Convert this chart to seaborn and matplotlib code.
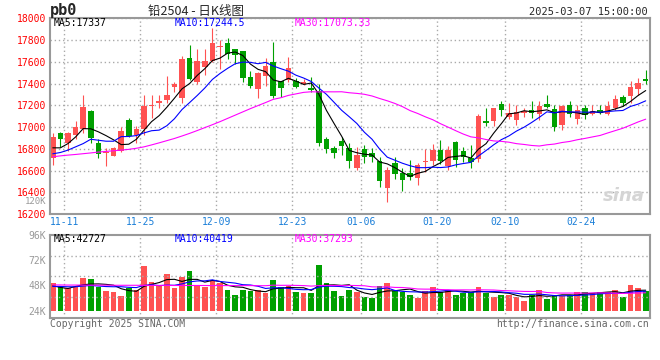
import numpy as np
import pandas as pd
import matplotlib
matplotlib.use("Agg")
import matplotlib.pyplot as plt
import seaborn as sns

# Pb2504 daily K-line
holidays = ["2025-01-01", "2025-01-28", "2025-01-29", "2025-01-30",
            "2025-01-31", "2025-02-03", "2025-02-04"]
tick_labels = ["11-11", "11-25", "12-09", "12-23", "01-06", "01-20", "02-10", "02-24"]
price_ticks = [16200, 16400, 16600, 16800, 17000, 17200, 17400, 17600, 17800, 18000]
vol_ticks = [24000, 48000, 72000, 96000]
vol_tick_labels = ["24K", "48K", "72K", "96K"]

opens = [16717, 16949, 16851, 16931, 16980, 17144, 16851, 16766, 16736, 16778,
         17062, 16925, 16986, 17190, 17222, 17245, 17367, 17266, 17638, 17419,
         17550, 17611, 17735, 17773, 17718, 17696, 17465, 17352, 17467, 17596,
         17422, 17437, 17422, 17397, 17358, 17336, 16888, 16803, 16870, 16803,
         16620, 16794, 16763, 16690, 16443, 16665, 16580, 16574, 16534, 16683,
         16690, 16787, 16641, 16864, 16779, 16720, 16705, 17053, 17056, 17208,
         17093, 17068, 17132, 17153, 17120, 17215, 17169, 17016, 17205, 17077,
         17175, 17117, 17160, 17117, 17178, 17276, 17282, 17352, 17443]
highs = [16949, 16955, 16955, 17059, 17300, 17153, 16888, 16809, 16818, 17001,
         17083, 17007, 17291, 17291, 17300, 17474, 17413, 17657, 17754, 17718,
         17718, 17910, 17800, 17821, 17720, 17702, 17520, 17510, 17632, 17779,
         17428, 17647, 17449, 17440, 17458, 17397, 16910, 16827, 16910, 16858,
         16818, 16833, 16809, 16726, 16635, 16726, 16620, 16696, 16665, 16794,
         16848, 16879, 16827, 16870, 16818, 16839, 17120, 17175, 17178, 17236,
         17224, 17199, 17175, 17236, 17236, 17291, 17199, 17199, 17236, 17199,
         17199, 17205, 17205, 17236, 17297, 17297, 17428, 17449, 17529]
lows = [16650, 16818, 16778, 16894, 16950, 16855, 16717, 16644, 16730, 16772,
        16910, 16858, 16930, 17083, 17180, 17221, 17321, 17224, 17434, 17397,
        17480, 17601, 17535, 17626, 17580, 17413, 17361, 17266, 17382, 17266,
        17281, 17413, 17358, 17390, 17321, 16827, 16757, 16718, 16742, 16620,
        16604, 16666, 16681, 16452, 16306, 16519, 16415, 16513, 16467, 16589,
        16650, 16659, 16604, 16635, 16681, 16626, 16681, 17007, 17010, 17099,
        17077, 17016, 17093, 17086, 17062, 17178, 16961, 16970, 17093, 17025,
        17071, 17108, 17117, 17108, 17160, 17190, 17224, 17297, 17397]
closes = [16907, 16894, 16949, 16998, 17181, 16900, 16754, 16775, 16803, 16961,
          16919, 16980, 17193, 17199, 17238, 17300, 17397, 17626, 17443, 17611,
          17611, 17770, 17740, 17672, 17663, 17450, 17376, 17498, 17565, 17282,
          17361, 17541, 17367, 17413, 17346, 16849, 16794, 16766, 16827, 16690,
          16742, 16727, 16727, 16507, 16604, 16568, 16513, 16537, 16650, 16690,
          16787, 16690, 16787, 16696, 16727, 16675, 17099, 17041, 17178, 17160,
          17132, 17138, 17144, 17132, 17196, 17184, 17001, 17193, 17117, 17160,
          17108, 17144, 17132, 17193, 17260, 17221, 17373, 17407, 17420]
volumes = [50800, 46200, 45200, 46200, 55100, 54200, 46800, 43100, 42200, 38500,
           45200, 43700, 66200, 51700, 47100, 59100, 45200, 56000, 61500, 47100,
           46200, 53200, 50800, 44000, 39400, 44000, 42500, 44000, 40900, 53200,
           46200, 47100, 42200, 40600, 40900, 67700, 50800, 43100, 37900, 44000,
           42200, 37500, 36000, 47700, 50800, 43100, 42200, 39400, 36000, 43100,
           46200, 42200, 44000, 39400, 40900, 42200, 46800, 40900, 37500, 39100,
           39100, 36900, 33800, 39100, 43700, 35400, 39100, 38500, 39100, 42200,
           42200, 40900, 41500, 42200, 44000, 36900, 48600, 45200, 43100]

# moving-average values before enough history is in the window
ma5_head = [16809, 16809, 16848, 16909]
ma10_head = [16754, 16766, 16788, 16818, 16848, 16888, 16879, 16870, 16870]
ma30_head = [16727, 16735, 16742, 16748, 16755, 16762, 16770, 16776, 16782, 16788,
             16795, 16805, 16818, 16836, 16855, 16875, 16895, 16918, 16942, 16968,
             16995, 17022, 17050, 17080, 17110, 17140, 17170, 17198, 17226]
vma5_head = [47700, 46200, 45200, 47100]
vma10_head = [47100, 47100, 46800, 46800, 47500, 48000, 47500, 47000, 46800]
vma30_head = [48500, 48500, 48400, 48400, 48400, 48300, 48300, 48300, 48200, 48200,
              48200, 48200, 48100, 48100, 48100, 48100, 48000, 48000, 48000, 48000,
              48000, 47900, 47900, 47900, 47900, 47900, 47900, 47800, 47800]

RED = "#ff5252"
GREEN = "#00a000"
GRID = "#aaaaaa"
FRAME = "#999999"

days = pd.bdate_range("2024-11-08", "2025-03-07")
days = days[~days.isin(pd.to_datetime(holidays))]
day_lbl = list(days.strftime("%m-%d"))
tick_pos = [day_lbl.index(t) + 0.5 for t in tick_labels]


def moving(vals, n, head):
    m = pd.Series(vals, dtype=float).rolling(n).mean().to_numpy()
    m[:len(head)] = head
    return m


o = np.array(opens); h = np.array(highs); l = np.array(lows); c = np.array(closes)
v = np.array(volumes, dtype=float)
x = np.arange(len(c))
colors = np.where(c >= o, RED, GREEN)

sns.set_theme(style="white")
plt.rcParams["font.family"] = ["DejaVu Sans Mono"]

fig = plt.figure(figsize=(6.6, 3.6), dpi=100)
ax = fig.add_axes([0.0758, 0.4056, 0.9083, 0.5431])
vax = fig.add_axes([0.0758, 0.1167, 0.9083, 0.2314])

# candles
ax.vlines(x, l, h, colors=colors, lw=0.8)
ax.bar(x, np.maximum(np.abs(c - o), 8), bottom=np.minimum(o, c), width=0.72,
       color=colors, linewidth=0)
sns.lineplot(x=x, y=moving(c, 5, ma5_head), ax=ax, color="black", lw=0.8)
sns.lineplot(x=x, y=moving(c, 10, ma10_head), ax=ax, color="#0000ff", lw=0.8)
sns.lineplot(x=x, y=moving(c, 30, ma30_head), ax=ax, color="#ff00ff", lw=0.8)

ax.set_xlim(-0.36, 78.5)
ax.set_ylim(16200, 18000)
ax.set_yticks(price_ticks)
ax.set_xticks(tick_pos)
ax.set_xticklabels(tick_labels)
ax.set_ylabel("")
ax.grid(True, ls=(0, (1, 2)), color=GRID, lw=1)
ax.tick_params(length=0, labelsize=7, pad=3)
ax.tick_params(axis="y", labelcolor="#ff0000")
ax.tick_params(axis="x", labelcolor="#1a7ed8", pad=2)

# volume
vbase = 24000
vax.bar(x, v - vbase, bottom=vbase, width=0.75, color=colors, linewidth=0)
sns.lineplot(x=x, y=moving(v, 5, vma5_head), ax=vax, color="black", lw=0.8)
sns.lineplot(x=x, y=moving(v, 10, vma10_head), ax=vax, color="#0000ff", lw=0.8)
sns.lineplot(x=x, y=moving(v, 30, vma30_head), ax=vax, color="#ff00ff", lw=0.8)
vlo, vhi = 17300, 96000
vax.set_xlim(-0.36, 78.5)
vax.set_ylim(vlo, vhi)
vax.set_yticks(vol_ticks)
vax.set_yticklabels(vol_tick_labels)
vax.set_xticks(tick_pos)
vax.set_xticklabels([])
vax.set_ylabel("")
vax.grid(True, axis="x", ls=(0, (1, 2)), color=GRID, lw=1)
for frac in (0.25, 0.5, 0.75):
    vax.axhline(vlo + frac * (vhi - vlo), ls=(0, (1, 2)), color=GRID, lw=1)
vax.tick_params(length=0, labelsize=7, pad=3, labelcolor="#999999")

for a in (ax, vax):
    for s in a.spines.values():
        s.set_color(FRAME)
        s.set_linewidth(1.5)

# texts
def px(xp, yp):
    return xp / 660, 1 - yp / 360

fig.text(*px(50, 11), "pb0", fontsize=11, weight="bold", va="center")
fig.text(*px(196, 11.5), "铅2504 - 日K线图", fontsize=9, ha="center", va="center",
         family=["Noto Sans CJK SC", "DejaVu Sans"])
fig.text(*px(648, 12), "2025-03-07 15:00:00", fontsize=7.5, ha="right", va="center")
fig.text(*px(54, 23.5), "MA5:17337", fontsize=7, va="center", color="black")
fig.text(*px(175, 23.5), "MA10:17244.5", fontsize=7, va="center", color="#0000ff")
fig.text(*px(295, 23.5), "MA30:17073.33", fontsize=7, va="center", color="#ff00ff")
fig.text(*px(54, 238.5), "MA5:42727", fontsize=7, va="center", color="black")
fig.text(*px(175, 238.5), "MA10:40419", fontsize=7, va="center", color="#0000ff")
fig.text(*px(295, 238.5), "MA30:37293", fontsize=7, va="center", color="#ff00ff")
fig.text(*px(46.7, 202), "120K", fontsize=6.5, ha="right", va="center", color="#999999")
fig.text(*px(50, 324), "Copyright 2025 SINA.COM", fontsize=7, va="center", color="#666666")
fig.text(*px(649, 324), "http://finance.sina.com.cn", fontsize=7, ha="right",
         va="center", color="#666666")
fig.text(*px(624, 196), "sina", fontsize=13, ha="center", va="center",
         color="#d5d5d5", style="italic", weight="bold", family="DejaVu Sans")

fig.savefig("out.png", dpi=100)
